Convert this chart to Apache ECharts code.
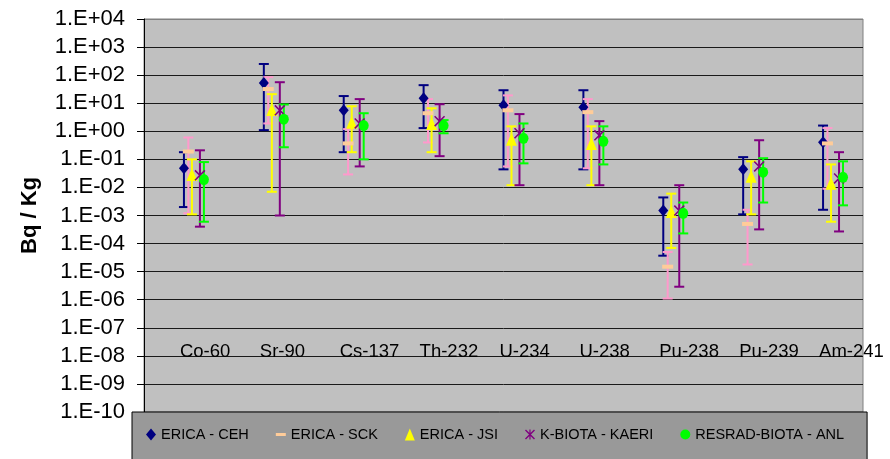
<!DOCTYPE html>
<html>
<head>
<meta charset="utf-8">
<script src="https://cdn.jsdelivr.net/npm/echarts@6/dist/echarts.min.js"></script>
<style>
  html, body { margin: 0; padding: 0; background: #fff; }
  #chart { width: 890px; height: 459px; }
</style>
</head>
<body>
<div id="chart"></div>
<script>
// 核素类别
var categories = ['Co-60', 'Sr-90', 'Cs-137', 'Th-232', 'U-234', 'U-238', 'Pu-238', 'Pu-239', 'Am-241'];

// ERICA - CEH
var cehValue = [0.048, 52, 5.6, 15, 8.5, 7.2, 1.5e-3, 0.044, 0.41];
var cehLow   = [2e-3, 1.1, 0.18, 1.3, 0.044, 0.044, 3.7e-5, 1.1e-3, 1.6e-3];
var cehHigh  = [0.18, 250, 18, 44, 29, 29, 4.4e-3, 0.12, 1.6];

// ERICA - SCK
var sckValue = [0.19, 32, 0.37, 4.4, 5.6, 4.8, 1.5e-5, 5e-4, 0.37];
var sckLow   = [1.2e-3, 1.9, 0.029, 0.4, 0.056, 0.048, 1.1e-6, 1.8e-5, 9e-3];
var sckHigh  = [0.6, 85, 1.2, 14, 19, 14, 5e-5, 1.6e-3, 1.3];

// ERICA - JSI
var jsiValue = [0.029, 6, 2.1, 1.9, 0.52, 0.37, 1.4e-3, 0.025, 0.014];
var jsiLow   = [1.1e-3, 0.007, 0.18, 0.18, 0.012, 0.012, 7e-5, 1.1e-3, 6e-4];
var jsiHigh  = [0.1, 21, 7.8, 6.6, 1.5, 1.5, 6e-3, 0.085, 0.066];

// K-BIOTA - KAERI
var kaeriValue = [0.027, 5.6, 1.9, 2.3, 0.85, 0.72, 1.5e-3, 0.056, 0.021];
var kaeriLow   = [4e-4, 1e-3, 0.056, 0.13, 0.012, 0.012, 2.9e-6, 3.2e-4, 2.7e-4];
var kaeriHigh  = [0.21, 56, 14, 9.2, 4.1, 2.3, 0.012, 0.48, 0.18];

// RESRAD-BIOTA - ANL
var anlValue = [0.019, 2.7, 1.6, 1.6, 0.56, 0.44, 1.2e-3, 0.035, 0.023];
var anlLow   = [6e-4, 0.27, 0.1, 0.85, 0.072, 0.066, 2.3e-4, 2.9e-3, 2.3e-3];
var anlHigh  = [0.08, 9, 4.4, 2.5, 1.9, 1.5, 2.9e-3, 0.11, 0.085];

var starPath = 'path://M0,1L1,0L10,9L9,10Z M9,0L10,1L1,10L0,9Z M4.4,0L5.6,0L5.6,10L4.4,10Z';
var dashPath = 'path://M0,0L10,0L10,3L0,3Z';

// 每个模型在类别内的横向偏移
var models = [
  {name: 'ERICA - CEH', v: cehValue, lo: cehLow, hi: cehHigh, shift: 0,
   marker: 'diamond', size: [10, 12], color: '#000080', barColor: '#000080', icon: 'diamond'},
  {name: 'ERICA - SCK', v: sckValue, lo: sckLow, hi: sckHigh, shift: 0.055,
   marker: 'rect', size: [11, 4], color: '#FFCC99', barColor: '#FF99CC', icon: dashPath},
  {name: 'ERICA - JSI', v: jsiValue, lo: jsiLow, hi: jsiHigh, shift: 0.1,
   marker: 'triangle', size: [11, 13], color: '#FFFF00', barColor: '#FFFF00', icon: 'triangle'},
  {name: 'K-BIOTA - KAERI', v: kaeriValue, lo: kaeriLow, hi: kaeriHigh, shift: 0.2,
   marker: starPath, size: [11, 11], color: '#800080', barColor: '#800080', icon: starPath},
  {name: 'RESRAD-BIOTA - ANL', v: anlValue, lo: anlLow, hi: anlHigh, shift: 0.25,
   marker: 'circle', size: [10, 11], color: '#00FF00', barColor: '#00FF00', icon: 'circle'}
];

// 误差线
function renderBar(params, api) {
  var x = api.value(0);
  var lo = api.coord([x, api.value(1)]);
  var hi = api.coord([x, api.value(2)]);
  var half = 5;
  var style = {stroke: api.visual('color'), lineWidth: 2};
  return {
    type: 'group',
    children: [
      {type: 'line', shape: {x1: lo[0], y1: lo[1], x2: hi[0], y2: hi[1]}, style: style},
      {type: 'line', shape: {x1: lo[0] - half, y1: lo[1], x2: lo[0] + half, y2: lo[1]}, style: style},
      {type: 'line', shape: {x1: hi[0] - half, y1: hi[1], x2: hi[0] + half, y2: hi[1]}, style: style}
    ]
  };
}

var series = [];
models.forEach(function (m) {
  series.push({
    name: m.name + ' err',
    type: 'custom',
    xAxisIndex: 0,
    yAxisIndex: 0,
    renderItem: renderBar,
    itemStyle: {color: m.barColor},
    encode: {x: 0, y: [1, 2]},
    data: categories.map(function (c, i) { return [i + 1 + m.shift, m.lo[i], m.hi[i]]; })
  });
  series.push({
    name: m.name,
    type: 'scatter',
    xAxisIndex: 0,
    yAxisIndex: 0,
    symbol: m.marker,
    symbolSize: m.size,
    symbolKeepAspect: false,
    itemStyle: {color: m.color, opacity: 1},
    data: categories.map(function (c, i) { return [i + 1 + m.shift, m.v[i]]; })
  });
});

var gridColors = [];
for (var k = 0; k < 14; k++) gridColors.push('#1a1a1a');
gridColors.push('#808080');

var chart = echarts.init(document.getElementById('chart'));
chart.setOption({
  animation: false,
  backgroundColor: '#ffffff',
  grid: [
    {left: 144, right: 27, top: 19, bottom: 47, show: true,
     backgroundColor: '#C0C0C0', borderColor: '#808080', borderWidth: 1},
    {left: 140, right: 31, top: 19, bottom: 47, show: false}
  ],
  xAxis: [
    {type: 'value', gridIndex: 0, min: 0.5, max: 9.5, show: false},
    {type: 'category', gridIndex: 1, data: categories, position: 'bottom', offset: -60,
     axisLine: {show: false}, axisTick: {show: false}, splitLine: {show: false},
     axisLabel: {interval: 0, align: 'left', verticalAlign: 'middle', margin: 0,
       fontFamily: '"Liberation Sans", Arial', fontSize: 18.5, color: '#000'}}
  ],
  yAxis: [
    {type: 'log', gridIndex: 0, logBase: 10, min: 1e-10, max: 1e4, interval: 1,
     name: 'Bq / Kg', nameLocation: 'middle', nameGap: 103,
     nameTextStyle: {fontFamily: '"Liberation Sans", Arial', fontWeight: 'bold', fontSize: 22, color: '#000'},
     axisLine: {show: true, lineStyle: {color: '#000', width: 1}},
     axisTick: {show: true, length: 7, lineStyle: {color: '#000'}},
     axisLabel: {margin: 19, fontFamily: '"Liberation Sans", Arial', fontSize: 22, color: '#000',
       formatter: function (v) {
         var e = Math.round(Math.log10(v));
         var a = Math.abs(e);
         return '1.E' + (e < 0 ? '-' : '+') + (a < 10 ? '0' : '') + a;
       }},
     splitLine: {show: true, lineStyle: {color: gridColors, width: 1}}},
    {type: 'value', gridIndex: 1, show: false}
  ],
  legend: {
    left: 132,
    top: 412,
    width: 760,
    padding: [15, 23, 20, 14],
    backgroundColor: '#999999',
    borderColor: '#000',
    borderWidth: 1,
    itemGap: 27,
    itemWidth: 10,
    itemHeight: 12,
    textStyle: {fontFamily: '"Liberation Sans", Arial', fontSize: 14.5, color: '#000'},
    data: models.map(function (m) { return {name: m.name, icon: m.icon}; })
  },
  series: series
});
</script>
</body>
</html>
